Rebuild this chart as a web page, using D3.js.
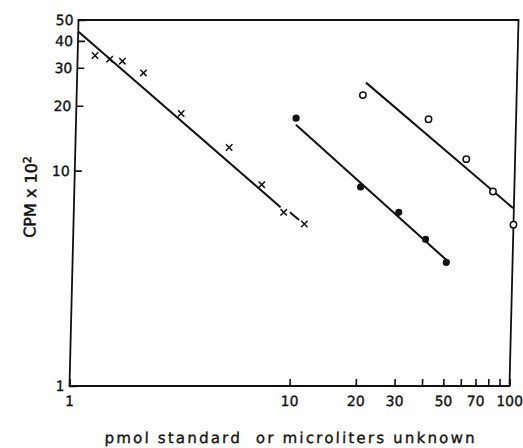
<!DOCTYPE html>
<html>
<head>
<meta charset="utf-8">
<script src="https://cdn.jsdelivr.net/npm/d3@7"></script>
<style>
  body { margin: 0; background: #fff; }
  svg { display: block; background: #fff; }
  text { font-family: "DejaVu Sans", "Liberation Sans", sans-serif; fill: #111; }
</style>
</head>
<body>
<svg></svg>
<script>
// standards (x marks)
let standardX = [1.2, 1.4, 1.6, 2, 3, 5, 7.1, 9, 11.2];
let standardY = [34.2, 32.9, 32.2, 28.4, 18.4, 12.8, 8.6, 6.4, 5.65];
// unknown 1 (filled circles)
let filledX = [10, 20, 30, 40, 50];
let filledY = [17.5, 8.4, 6.4, 4.8, 3.75];
// unknown 2 (open circles)
let openX = [20, 40, 60, 80, 100];
let openY = [22.4, 17.3, 11.3, 8.0, 5.6];

// fitted lines, [x, y] end points
let standardLine = [[1, 44.2], [8.7, 6.76]];
let standardDash = [[9.6, 6.4], [10.6, 5.9]];
let filledLine = [[10, 16.3], [51.6, 3.74]];
let openLine = [[20.6, 25.6], [99.4, 6.68]];

let xTicks = [1, 10, 20, 30, 40, 50, 60, 70, 80, 90, 100];
let xLabels = [1, 10, 20, 30, 50, 70, 100];
let yTicks = [1, 10, 20, 30, 40, 50];

let width = 523;
let height = 448;
let plotLeft = 69.5, plotRight = 509.5, plotTop = 20, plotBottom = 386;

let svg = d3.select("svg").attr("width", width).attr("height", height);

// the scanned figure is slightly sheared: top edge sits further right than the bottom
let g = svg.append("g")
    .attr("transform", `translate(0,${plotBottom}) skewX(-1.41) translate(0,${-plotBottom})`);

let xScale = d3.scaleLog().domain([1, 100]).range([plotLeft, plotRight]);
let yScale = d3.scaleLog().domain([1, 50]).range([plotBottom, plotTop]);

// frame
g.append("rect")
    .attr("x", plotLeft).attr("y", plotTop)
    .attr("width", plotRight - plotLeft).attr("height", plotBottom - plotTop)
    .attr("fill", "none").attr("stroke", "#111").attr("stroke-width", 1.8);

let xAxis = d3.axisBottom(xScale)
    .tickValues(xTicks)
    .tickSize(-7)
    .tickPadding(10)
    .tickFormat(d => xLabels.includes(d) ? String(d) : "");

let xg = g.append("g")
    .attr("transform", `translate(0,${plotBottom})`)
    .call(xAxis);

let yAxis = d3.axisLeft(yScale)
    .tickValues(yTicks)
    .tickSize(-7)
    .tickPadding(5)
    .tickFormat(d => String(d));

let yg = g.append("g")
    .attr("transform", `translate(${plotLeft},0)`)
    .call(yAxis);

[xg, yg].forEach(a => {
    a.select(".domain").remove();
    a.selectAll(".tick line").attr("stroke", "#111").attr("stroke-width", 1.6);
    a.selectAll(".tick text")
     .attr("font-size", 14)
     .attr("font-family", "DejaVu Sans, sans-serif")
     .attr("fill", "#111")
     .attr("stroke", "#111")
     .attr("stroke-width", 0.35);
});

// fitted lines
let line = d3.line().x(d => xScale(d[0])).y(d => yScale(d[1]));

[standardLine, filledLine, openLine].forEach(l => {
    g.append("path")
     .attr("d", line(l))
     .attr("fill", "none")
     .attr("stroke", "#111")
     .attr("stroke-width", 2);
});

g.append("path")
    .attr("d", line(standardDash))
    .attr("fill", "none")
    .attr("stroke", "#111")
    .attr("stroke-width", 2);

// x marks
let standards = standardX.map((x, i) => [x, standardY[i]]);
let s = 3.2;
g.selectAll("path.cross")
    .data(standards)
    .enter()
    .append("path")
    .attr("class", "cross")
    .attr("d", d => {
        let cx = xScale(d[0]), cy = yScale(d[1]);
        return `M${cx - s},${cy - s}L${cx + s},${cy + s}M${cx - s},${cy + s}L${cx + s},${cy - s}`;
    })
    .attr("stroke", "#111")
    .attr("stroke-width", 1.5);

// filled circles
g.selectAll("circle.filled")
    .data(filledX.map((x, i) => [x, filledY[i]]))
    .enter()
    .append("circle")
    .attr("class", "filled")
    .attr("cx", d => xScale(d[0]))
    .attr("cy", d => yScale(d[1]))
    .attr("r", 3.6)
    .attr("fill", "#111");

// open circles
g.selectAll("circle.open")
    .data(openX.map((x, i) => [x, openY[i]]))
    .enter()
    .append("circle")
    .attr("class", "open")
    .attr("cx", d => xScale(d[0]))
    .attr("cy", d => yScale(d[1]))
    .attr("r", 3.2)
    .attr("fill", "#fff")
    .attr("stroke", "#111")
    .attr("stroke-width", 1.5);

// axis titles
g.append("text")
    .attr("x", 292)
    .attr("y", 443)
    .attr("text-anchor", "middle")
    .attr("font-size", 15)
    .attr("letter-spacing", 2.2)
    .attr("stroke", "#111")
    .attr("stroke-width", 0.35)
    .style("white-space", "pre")
    .text("pmol standard  or microliters unknown");

let yTitle = g.append("text")
    .attr("transform", "translate(31.5,197) rotate(-90)")
    .attr("text-anchor", "middle")
    .attr("font-size", 16)
    .attr("stroke", "#111")
    .attr("stroke-width", 0.5);
yTitle.append("tspan").text("CPM x 10");
yTitle.append("tspan").attr("dy", -6).attr("font-size", 11).text("2");
</script>
</body>
</html>
